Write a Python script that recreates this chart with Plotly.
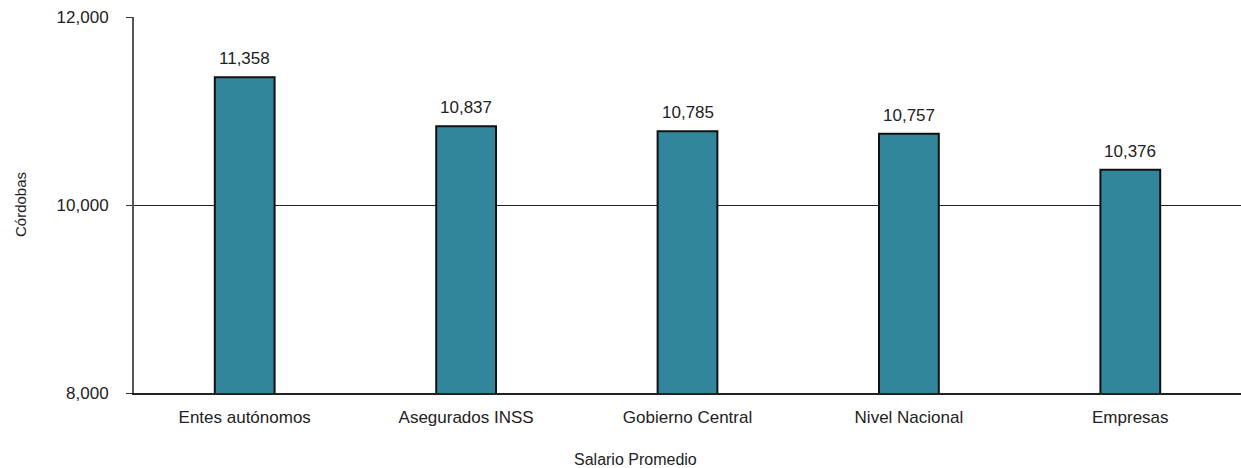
import plotly.graph_objects as go

categorias = ['Entes autónomos', 'Asegurados INSS', 'Gobierno Central', 'Nivel Nacional', 'Empresas']
salarios = [11358, 10837, 10785, 10757, 10376]
y_ticks = [8000, 10000, 12000]
y_tick_labels = ['8,000', '10,000', '12,000']

W, H = 1241, 468
M_L, M_R, M_T, M_B = 134, 0, 17, 75
PW, PH = W - M_L - M_R, H - M_T - M_B

fig = go.Figure()

fig.add_trace(go.Bar(
    x=categorias,
    y=salarios,
    marker=dict(color='#31869B', line=dict(color='#111111', width=2)),
    hoverinfo='x+y',
))

# etiquetas de valor sobre cada barra
for cat, val in zip(categorias, salarios):
    fig.add_annotation(
        x=cat, y=val, text=f'{val:,}', showarrow=False,
        yanchor='bottom', yshift=7,
        font=dict(size=17, color='#222222'),
    )

fig.update_layout(
    width=W, height=H,
    margin=dict(l=M_L, r=M_R, t=M_T, b=M_B),
    paper_bgcolor='white', plot_bgcolor='white',
    font=dict(family='Liberation Sans, Arial, sans-serif', size=17, color='#222222'),
    bargap=0.73,
    showlegend=False,
)

fig.update_yaxes(
    range=[8000, 12000],
    tickvals=y_ticks, ticktext=y_tick_labels,
    ticks='outside', ticklen=6, tickcolor='#333333',
    showgrid=True, gridcolor='#222222', gridwidth=1,
    showline=True, linecolor='#555555', linewidth=2,
    ticklabelstandoff=14,
    tickfont=dict(size=17),
    zeroline=False,
)

fig.update_xaxes(
    showline=True, linecolor='#222222', linewidth=2,
    ticks='', tickfont=dict(size=17),
    ticklabelstandoff=8,
)

# títulos de ejes
fig.add_annotation(
    text='Córdobas', xref='paper', yref='paper',
    x=(20 - M_L) / PW, y=(H - M_B - 205) / PH,
    xanchor='center', yanchor='middle', textangle=-90, showarrow=False,
    font=dict(size=15),
)
fig.add_annotation(
    text='Salario Promedio', xref='paper', yref='paper',
    x=(635 - M_L) / PW, y=-(459 - (H - M_B)) / PH,
    xanchor='center', yanchor='middle', showarrow=False,
    font=dict(size=16),
)

fig.write_html('out.html', config={'displayModeBar': False},
               post_script="document.body.style.margin='0';")
